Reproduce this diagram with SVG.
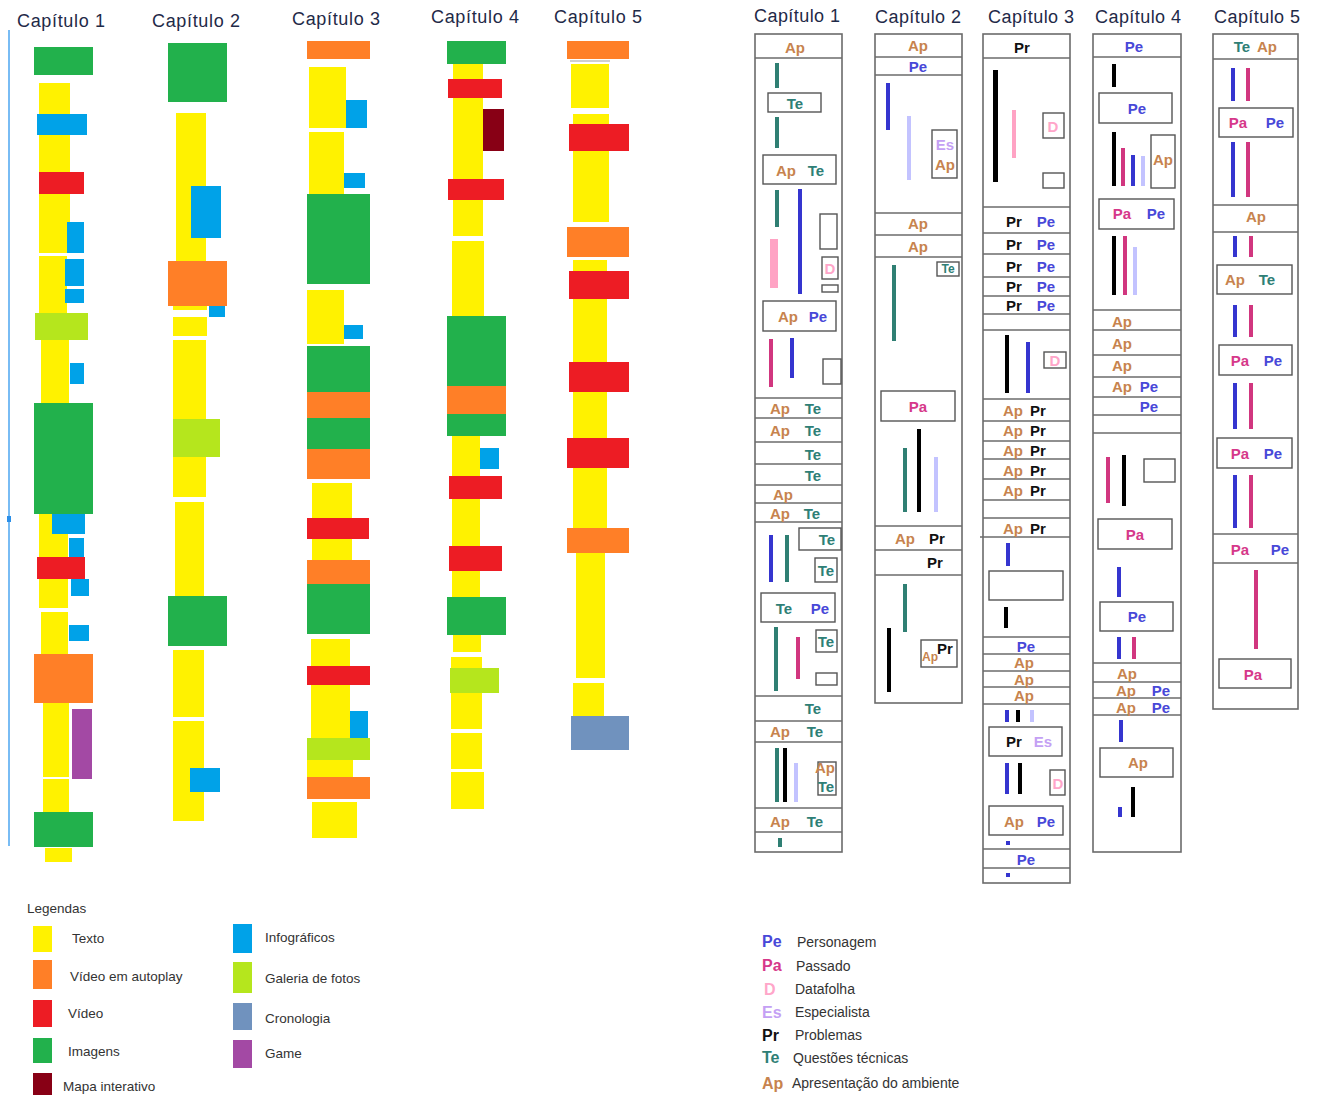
<svg xmlns="http://www.w3.org/2000/svg" width="1318" height="1095" viewBox="0 0 1318 1095">
<style>
text{font-family:"Liberation Sans",Arial,sans-serif;dominant-baseline:central}
.title{font-size:18px;fill:#1f2a48;text-anchor:middle}
.ab{font-size:15px;font-weight:bold;text-anchor:middle}
.sm{font-size:12px}
.ap{fill:#C7834E}.te{fill:#2F7F76}.pe{fill:#4848D8}.pa{fill:#D6388A}.d{fill:#FFA6C9}.es{fill:#C4A0F4}.pr{fill:#111}
.col{fill:#fff;stroke:#6b6b6b;stroke-width:1.6}
.ln{stroke:#6b6b6b;stroke-width:1.3}
.bx{fill:#fff;stroke:#555;stroke-width:1.4}
.Y{fill:#FFF200}.O{fill:#FF7F27}.R{fill:#ED1C24}.G{fill:#22B14C}.B{fill:#00A2E8}.L{fill:#B5E61D}.C{fill:#7092BE}.P{fill:#A349A4}.M{fill:#880015}
.bt{fill:#2F7F73}.bb{fill:#3535CF}.bp{fill:#FFA3C4}.bm{fill:#D1367F}.bk{fill:#000}.bl{fill:#C3C3FF}
.lg{font-size:13.5px;fill:#333}
.lg2{font-size:14px;fill:#333}
.lab{font-size:16px;font-weight:bold}
</style>
<rect width="1318" height="1095" fill="#fff"/>
<g id="connectors"/>

<!-- LEFT SIDE -->
<g id="left-axis">
<line x1="9" y1="30" x2="9" y2="846" stroke="#4DA6F0" stroke-width="1.5"/>
<rect x="7" y="516" width="4" height="6" fill="#2b8fe8"/>
</g>

<g id="left-chapter-1">
<text class="title" x="61" y="21" textLength="88" lengthAdjust="spacing">Capítulo 1</text>
<rect class="Y" x="39" y="83" width="31" height="170"/>
<rect class="Y" x="39" y="256" width="28" height="57"/>
<rect class="Y" x="41" y="340" width="28" height="63"/>
<rect class="Y" x="39" y="514" width="29" height="94"/>
<rect class="Y" x="41" y="612" width="27" height="42"/>
<rect class="Y" x="43" y="703" width="26" height="74"/>
<rect class="Y" x="43" y="779" width="26" height="33"/>
<rect class="Y" x="45" y="848" width="27" height="14"/>
<rect class="G" x="34" y="47" width="59" height="28"/>
<rect class="B" x="37" y="114" width="50" height="21"/>
<rect class="R" x="39" y="172" width="45" height="22"/>
<rect class="B" x="67" y="222" width="17" height="31"/>
<rect class="B" x="65" y="259" width="19" height="27"/>
<rect class="B" x="65" y="289" width="19" height="14"/>
<rect class="L" x="35" y="313" width="53" height="27"/>
<rect class="B" x="70" y="363" width="14" height="21"/>
<rect class="G" x="34" y="403" width="59" height="111"/>
<rect class="B" x="52" y="514" width="33" height="20"/>
<rect class="B" x="69" y="538" width="15" height="19"/>
<rect class="R" x="37" y="557" width="48" height="22"/>
<rect class="B" x="71" y="579" width="18" height="17"/>
<rect class="B" x="69" y="625" width="20" height="16"/>
<rect class="O" x="34" y="654" width="59" height="49"/>
<rect class="P" x="72" y="709" width="20" height="70"/>
<rect class="G" x="34" y="812" width="59" height="35"/>
</g>

<g id="left-chapter-2">
<text class="title" x="196" y="21" textLength="88" lengthAdjust="spacing">Capítulo 2</text>
<rect class="G" x="168" y="43" width="59" height="59"/>
<rect class="Y" x="176" y="113" width="30" height="148"/>
<rect class="B" x="191" y="186" width="30" height="52"/>
<rect class="O" x="168" y="261" width="59" height="45"/>
<rect class="Y" x="173" y="306" width="34" height="4"/>
<rect class="B" x="209" y="306" width="16" height="11"/>
<rect class="Y" x="173" y="317" width="34" height="19"/>
<rect class="Y" x="173" y="340" width="33" height="157"/>
<rect class="L" x="173" y="419" width="47" height="38"/>
<rect class="Y" x="175" y="502" width="29" height="94"/>
<rect class="G" x="168" y="596" width="59" height="50"/>
<rect class="Y" x="173" y="650" width="31" height="67"/>
<rect class="Y" x="173" y="721" width="31" height="100"/>
<rect class="B" x="190" y="768" width="30" height="24"/>
</g>

<g id="left-chapter-3">
<text class="title" x="336" y="19" textLength="88" lengthAdjust="spacing">Capítulo 3</text>
<rect class="O" x="307" y="41" width="63" height="18"/>
<rect class="Y" x="309" y="67" width="37" height="61"/>
<rect class="B" x="346" y="100" width="21" height="28"/>
<rect class="Y" x="309" y="132" width="35" height="62"/>
<rect class="B" x="344" y="173" width="21" height="15"/>
<rect class="G" x="307" y="194" width="63" height="90"/>
<rect class="Y" x="307" y="290" width="37" height="54"/>
<rect class="B" x="344" y="325" width="19" height="14"/>
<rect class="G" x="307" y="346" width="63" height="46"/>
<rect class="O" x="307" y="392" width="63" height="26"/>
<rect class="G" x="307" y="418" width="63" height="31"/>
<rect class="O" x="307" y="449" width="63" height="30"/>
<rect class="Y" x="312" y="483" width="40" height="77"/>
<rect class="R" x="307" y="518" width="62" height="21"/>
<rect class="O" x="307" y="560" width="63" height="24"/>
<rect class="G" x="307" y="584" width="63" height="50"/>
<rect class="Y" x="311" y="639" width="39" height="100"/>
<rect class="R" x="307" y="666" width="63" height="19"/>
<rect class="B" x="350" y="711" width="18" height="27"/>
<rect class="L" x="307" y="738" width="63" height="22"/>
<rect class="Y" x="307" y="760" width="46" height="17"/>
<rect class="O" x="307" y="777" width="63" height="22"/>
<rect class="Y" x="312" y="802" width="45" height="36"/>
</g>

<g id="left-chapter-4">
<text class="title" x="475" y="17" textLength="88" lengthAdjust="spacing">Capítulo 4</text>
<rect class="G" x="447" y="41" width="59" height="23"/>
<rect class="Y" x="453" y="64" width="30" height="172"/>
<rect class="R" x="448" y="79" width="54" height="19"/>
<rect class="M" x="483" y="109" width="21" height="42"/>
<rect class="R" x="448" y="179" width="56" height="21"/>
<rect class="Y" x="452" y="241" width="32" height="75"/>
<rect class="G" x="447" y="316" width="59" height="70"/>
<rect class="O" x="447" y="386" width="59" height="28"/>
<rect class="G" x="447" y="414" width="59" height="22"/>
<rect class="Y" x="452" y="436" width="28" height="161"/>
<rect class="B" x="480" y="448" width="19" height="21"/>
<rect class="R" x="449" y="476" width="53" height="23"/>
<rect class="R" x="449" y="546" width="53" height="25"/>
<rect class="G" x="447" y="597" width="59" height="38"/>
<rect class="Y" x="453" y="635" width="28" height="17"/>
<rect class="Y" x="451" y="657" width="31" height="72"/>
<rect class="L" x="450" y="668" width="49" height="25"/>
<rect class="Y" x="451" y="733" width="31" height="36"/>
<rect class="Y" x="451" y="772" width="33" height="37"/>
</g>

<g id="left-chapter-5">
<text class="title" x="598" y="17" textLength="88" lengthAdjust="spacing">Capítulo 5</text>
<rect class="O" x="567" y="41" width="62" height="18"/>
<rect x="570" y="60" width="40" height="2" fill="#cfcfcf"/>
<rect class="Y" x="571" y="64" width="38" height="44"/>
<rect class="Y" x="573" y="114" width="36" height="108"/>
<rect class="R" x="569" y="124" width="60" height="27"/>
<rect class="O" x="567" y="227" width="62" height="30"/>
<rect class="Y" x="573" y="260" width="34" height="268"/>
<rect class="R" x="569" y="271" width="60" height="28"/>
<rect class="R" x="569" y="362" width="60" height="30"/>
<rect class="R" x="567" y="438" width="62" height="30"/>
<rect class="O" x="567" y="528" width="62" height="25"/>
<rect class="Y" x="576" y="553" width="29" height="125"/>
<rect class="Y" x="573" y="683" width="31" height="33"/>
<rect class="C" x="571" y="716" width="58" height="34"/>
</g>

<!-- RIGHT SIDE -->
<g id="right-chapter-1">
<text class="title" x="797" y="16" textLength="86" lengthAdjust="spacing">Capítulo 1</text>
<rect class="col" x="755" y="34" width="87" height="818"/>
<g class="ln">
<line x1="755" y1="58" x2="842" y2="58"/><line x1="755" y1="398" x2="842" y2="398"/>
<line x1="755" y1="418" x2="842" y2="418"/><line x1="755" y1="442" x2="842" y2="442"/>
<line x1="755" y1="464" x2="842" y2="464"/><line x1="755" y1="485" x2="842" y2="485"/>
<line x1="755" y1="503" x2="842" y2="503"/><line x1="755" y1="522" x2="842" y2="522"/>
<line x1="755" y1="696" x2="842" y2="696"/><line x1="755" y1="721" x2="842" y2="721"/>
<line x1="755" y1="742" x2="842" y2="742"/><line x1="755" y1="808" x2="842" y2="808"/>
<line x1="755" y1="832" x2="842" y2="832"/>
</g>
<rect class="bx" x="768" y="93" width="53" height="19"/>
<rect class="bx" x="763" y="155" width="73" height="29"/>
<rect class="bx" x="820" y="214" width="17" height="35"/>
<rect class="bx" x="822" y="257" width="16" height="22"/>
<rect class="bx" x="822" y="285" width="16" height="7"/>
<rect class="bx" x="763" y="301" width="73" height="30"/>
<rect class="bx" x="823" y="359" width="18" height="25"/>
<rect class="bx" x="799" y="528" width="42" height="22"/>
<rect class="bx" x="815" y="558" width="22" height="24"/>
<rect class="bx" x="761" y="593" width="74" height="29"/>
<rect class="bx" x="816" y="630" width="21" height="22"/>
<rect class="bx" x="816" y="673" width="21" height="12"/>
<rect class="bx" x="818" y="762" width="18" height="33"/>
<rect class="bt" x="775" y="63" width="4" height="25"/>
<rect class="bt" x="775" y="117" width="4" height="31"/>
<rect class="bt" x="775" y="190" width="4" height="37"/>
<rect class="bb" x="798" y="189" width="4" height="105"/>
<rect class="bp" x="770" y="239" width="8" height="49"/>
<rect class="bm" x="769" y="339" width="4" height="48"/>
<rect class="bb" x="790" y="338" width="4" height="40"/>
<rect class="bb" x="769" y="535" width="4" height="47"/>
<rect class="bt" x="785" y="535" width="4" height="47"/>
<rect class="bt" x="774" y="627" width="4" height="64"/>
<rect class="bm" x="796" y="637" width="4" height="42"/>
<rect class="bt" x="775" y="748" width="4" height="54"/>
<rect class="bk" x="783" y="748" width="4" height="54"/>
<rect class="bl" x="794" y="763" width="4" height="39"/>
<rect class="bt" x="778" y="838" width="4" height="9"/>
<text class="ab ap" x="795" y="47">Ap</text>
<text class="ab te" x="795" y="103">Te</text>
<text class="ab ap" x="786" y="170">Ap</text><text class="ab te" x="816" y="170">Te</text>
<text class="ab d" x="830" y="268">D</text>
<text class="ab ap" x="788" y="316">Ap</text><text class="ab pe" x="818" y="316">Pe</text>
<text class="ab ap" x="780" y="408">Ap</text><text class="ab te" x="813" y="408">Te</text>
<text class="ab ap" x="780" y="430">Ap</text><text class="ab te" x="813" y="430">Te</text>
<text class="ab te" x="813" y="454">Te</text>
<text class="ab te" x="813" y="475">Te</text>
<text class="ab ap" x="783" y="494">Ap</text>
<text class="ab ap" x="780" y="513">Ap</text><text class="ab te" x="812" y="513">Te</text>
<text class="ab te" x="827" y="539">Te</text>
<text class="ab te" x="826" y="570">Te</text>
<text class="ab te" x="784" y="608">Te</text><text class="ab pe" x="820" y="608">Pe</text>
<text class="ab te" x="826" y="641">Te</text>
<text class="ab te" x="813" y="708">Te</text>
<text class="ab ap" x="780" y="731">Ap</text><text class="ab te" x="815" y="731">Te</text>
<text class="ab ap" x="825" y="767">Ap</text><text class="ab te" x="826" y="786">Te</text>
<text class="ab ap" x="780" y="821">Ap</text><text class="ab te" x="815" y="821">Te</text>
</g>

<g id="right-chapter-2">
<text class="title" x="918" y="17" textLength="86" lengthAdjust="spacing">Capítulo 2</text>
<rect class="col" x="875" y="34" width="87" height="669"/>
<g class="ln">
<line x1="875" y1="57" x2="962" y2="57"/><line x1="875" y1="75" x2="962" y2="75"/>
<line x1="875" y1="213" x2="962" y2="213"/><line x1="875" y1="235" x2="962" y2="235"/>
<line x1="875" y1="257" x2="962" y2="257"/><line x1="875" y1="526" x2="962" y2="526"/>
<line x1="875" y1="550" x2="962" y2="550"/><line x1="875" y1="575" x2="962" y2="575"/>
</g>
<rect class="bx" x="932" y="130" width="25" height="48"/>
<rect class="bx" x="937" y="262" width="22" height="14"/>
<rect class="bx" x="881" y="391" width="74" height="30"/>
<rect class="bx" x="921" y="640" width="36" height="27"/>
<rect class="bb" x="886" y="83" width="4" height="47"/>
<rect class="bl" x="907" y="116" width="4" height="64"/>
<rect class="bt" x="892" y="265" width="4" height="76"/>
<rect class="bt" x="903" y="448" width="4" height="64"/>
<rect class="bk" x="917" y="429" width="4" height="83"/>
<rect class="bl" x="934" y="457" width="4" height="55"/>
<rect class="bt" x="903" y="584" width="4" height="48"/>
<rect class="bk" x="887" y="628" width="4" height="64"/>
<text class="ab ap" x="918" y="45">Ap</text>
<text class="ab pe" x="918" y="66">Pe</text>
<text class="ab es" x="945" y="144">Es</text>
<text class="ab ap" x="945" y="164">Ap</text>
<text class="ab ap" x="918" y="223">Ap</text>
<text class="ab ap" x="918" y="246">Ap</text>
<text class="ab te sm" x="948" y="269">Te</text>
<text class="ab pa" x="918" y="406">Pa</text>
<text class="ab ap" x="905" y="538">Ap</text><text class="ab pr" x="937" y="538">Pr</text>
<text class="ab pr" x="935" y="562">Pr</text>
<text class="ab ap sm" x="930" y="657">Ap</text><text class="ab pr" x="945" y="648">Pr</text>
</g>

<g id="right-chapter-3">
<text class="title" x="1031" y="17" textLength="86" lengthAdjust="spacing">Capítulo 3</text>
<rect class="col" x="983" y="34" width="87" height="849"/>
<g class="ln">
<line x1="983" y1="58" x2="1070" y2="58"/><line x1="983" y1="207" x2="1070" y2="207"/>
<line x1="983" y1="233" x2="1070" y2="233"/><line x1="983" y1="254" x2="1070" y2="254"/>
<line x1="983" y1="277" x2="1070" y2="277"/><line x1="983" y1="296" x2="1070" y2="296"/>
<line x1="983" y1="314" x2="1070" y2="314"/><line x1="983" y1="330" x2="1070" y2="330"/>
<line x1="983" y1="399" x2="1070" y2="399"/><line x1="983" y1="421" x2="1070" y2="421"/>
<line x1="983" y1="441" x2="1070" y2="441"/><line x1="983" y1="459" x2="1070" y2="459"/>
<line x1="983" y1="479" x2="1070" y2="479"/><line x1="983" y1="500" x2="1070" y2="500"/>
<line x1="983" y1="518" x2="1070" y2="518"/><line x1="980" y1="537" x2="1070" y2="537"/>
<line x1="983" y1="637" x2="1070" y2="637"/><line x1="983" y1="654" x2="1070" y2="654"/>
<line x1="983" y1="671" x2="1070" y2="671"/><line x1="983" y1="687" x2="1070" y2="687"/>
<line x1="983" y1="704" x2="1070" y2="704"/><line x1="983" y1="849" x2="1070" y2="849"/>
<line x1="983" y1="868" x2="1070" y2="868"/>
</g>
<rect class="bx" x="1043" y="113" width="21" height="25"/>
<rect class="bx" x="1043" y="173" width="21" height="15"/>
<rect class="bx" x="1044" y="352" width="22" height="16"/>
<rect class="bx" x="989" y="571" width="74" height="29"/>
<rect class="bx" x="989" y="727" width="73" height="29"/>
<rect class="bx" x="1050" y="770" width="15" height="25"/>
<rect class="bx" x="989" y="806" width="74" height="29"/>
<rect class="bk" x="993" y="70" width="5" height="112"/>
<rect class="bp" x="1012" y="110" width="4" height="48"/>
<rect class="bk" x="1005" y="335" width="4" height="58"/>
<rect class="bb" x="1026" y="342" width="4" height="51"/>
<rect class="bb" x="1006" y="543" width="4" height="23"/>
<rect class="bk" x="1004" y="607" width="4" height="21"/>
<rect class="bb" x="1005" y="710" width="4" height="12"/>
<rect class="bk" x="1016" y="710" width="4" height="12"/>
<rect class="bl" x="1030" y="710" width="4" height="12"/>
<rect class="bb" x="1005" y="763" width="4" height="31"/>
<rect class="bk" x="1018" y="763" width="4" height="31"/>
<rect class="bb" x="1006" y="841" width="4" height="4"/>
<rect class="bb" x="1006" y="873" width="4" height="4"/>
<text class="ab pr" x="1022" y="47">Pr</text>
<text class="ab d" x="1053" y="126">D</text>
<text class="ab pr" x="1014" y="221">Pr</text><text class="ab pe" x="1046" y="221">Pe</text>
<text class="ab pr" x="1014" y="244">Pr</text><text class="ab pe" x="1046" y="244">Pe</text>
<text class="ab pr" x="1014" y="266">Pr</text><text class="ab pe" x="1046" y="266">Pe</text>
<text class="ab pr" x="1014" y="286">Pr</text><text class="ab pe" x="1046" y="286">Pe</text>
<text class="ab pr" x="1014" y="305">Pr</text><text class="ab pe" x="1046" y="305">Pe</text>
<text class="ab d" x="1055" y="360">D</text>
<text class="ab ap" x="1013" y="410">Ap</text><text class="ab pr" x="1038" y="410">Pr</text>
<text class="ab ap" x="1013" y="430">Ap</text><text class="ab pr" x="1038" y="430">Pr</text>
<text class="ab ap" x="1013" y="450">Ap</text><text class="ab pr" x="1038" y="450">Pr</text>
<text class="ab ap" x="1013" y="470">Ap</text><text class="ab pr" x="1038" y="470">Pr</text>
<text class="ab ap" x="1013" y="490">Ap</text><text class="ab pr" x="1038" y="490">Pr</text>
<text class="ab ap" x="1013" y="528">Ap</text><text class="ab pr" x="1038" y="528">Pr</text>
<text class="ab pe" x="1026" y="646">Pe</text>
<text class="ab ap" x="1024" y="662">Ap</text>
<text class="ab ap" x="1024" y="679">Ap</text>
<text class="ab ap" x="1024" y="695">Ap</text>
<text class="ab pr" x="1014" y="741">Pr</text><text class="ab es" x="1043" y="741">Es</text>
<text class="ab d" x="1058" y="783">D</text>
<text class="ab ap" x="1014" y="821">Ap</text><text class="ab pe" x="1046" y="821">Pe</text>
<text class="ab pe" x="1026" y="859">Pe</text>
</g>

<g id="right-chapter-4">
<text class="title" x="1138" y="17" textLength="86" lengthAdjust="spacing">Capítulo 4</text>
<rect class="col" x="1093" y="34" width="88" height="818"/>
<g class="ln">
<line x1="1093" y1="57" x2="1181" y2="57"/><line x1="1093" y1="310" x2="1181" y2="310"/>
<line x1="1093" y1="330" x2="1181" y2="330"/><line x1="1093" y1="355" x2="1181" y2="355"/>
<line x1="1093" y1="377" x2="1181" y2="377"/><line x1="1093" y1="397" x2="1181" y2="397"/>
<line x1="1093" y1="415" x2="1181" y2="415"/><line x1="1093" y1="433" x2="1181" y2="433"/>
<line x1="1093" y1="663" x2="1181" y2="663"/><line x1="1093" y1="682" x2="1181" y2="682"/>
<line x1="1093" y1="698" x2="1181" y2="698"/><line x1="1093" y1="715" x2="1181" y2="715"/>
</g>
<rect class="bx" x="1099" y="93" width="73" height="30"/>
<rect class="bx" x="1151" y="135" width="24" height="53"/>
<rect class="bx" x="1099" y="199" width="75" height="30"/>
<rect class="bx" x="1144" y="459" width="31" height="23"/>
<rect class="bx" x="1098" y="519" width="74" height="30"/>
<rect class="bx" x="1100" y="602" width="73" height="29"/>
<rect class="bx" x="1100" y="748" width="73" height="29"/>
<rect class="bk" x="1112" y="64" width="4" height="23"/>
<rect class="bk" x="1112" y="132" width="4" height="54"/>
<rect class="bm" x="1121" y="148" width="4" height="38"/>
<rect class="bb" x="1131" y="155" width="4" height="31"/>
<rect class="bl" x="1141" y="156" width="4" height="30"/>
<rect class="bk" x="1112" y="236" width="4" height="59"/>
<rect class="bm" x="1123" y="236" width="4" height="59"/>
<rect class="bl" x="1133" y="247" width="4" height="48"/>
<rect class="bm" x="1106" y="457" width="4" height="46"/>
<rect class="bk" x="1122" y="455" width="4" height="51"/>
<rect class="bb" x="1117" y="567" width="4" height="30"/>
<rect class="bb" x="1117" y="637" width="4" height="22"/>
<rect class="bm" x="1132" y="637" width="4" height="22"/>
<rect class="bb" x="1119" y="720" width="4" height="22"/>
<rect class="bb" x="1118" y="807" width="4" height="10"/>
<rect class="bk" x="1131" y="787" width="4" height="30"/>
<text class="ab pe" x="1134" y="46">Pe</text>
<text class="ab pe" x="1137" y="108">Pe</text>
<text class="ab ap" x="1163" y="159">Ap</text>
<text class="ab pa" x="1122" y="213">Pa</text><text class="ab pe" x="1156" y="213">Pe</text>
<text class="ab ap" x="1122" y="321">Ap</text>
<text class="ab ap" x="1122" y="343">Ap</text>
<text class="ab ap" x="1122" y="365">Ap</text>
<text class="ab ap" x="1122" y="386">Ap</text><text class="ab pe" x="1149" y="386">Pe</text>
<text class="ab pe" x="1149" y="406">Pe</text>
<text class="ab pa" x="1135" y="534">Pa</text>
<text class="ab pe" x="1137" y="616">Pe</text>
<text class="ab ap" x="1127" y="673">Ap</text>
<text class="ab ap" x="1126" y="690">Ap</text><text class="ab pe" x="1161" y="690">Pe</text>
<text class="ab ap" x="1126" y="707">Ap</text><text class="ab pe" x="1161" y="707">Pe</text>
<text class="ab ap" x="1138" y="762">Ap</text>
</g>

<g id="right-chapter-5">
<text class="title" x="1257" y="17" textLength="86" lengthAdjust="spacing">Capítulo 5</text>
<rect class="col" x="1213" y="34" width="85" height="675"/>
<g class="ln">
<line x1="1213" y1="59" x2="1298" y2="59"/><line x1="1213" y1="205" x2="1298" y2="205"/>
<line x1="1213" y1="232" x2="1298" y2="232"/><line x1="1213" y1="534" x2="1298" y2="534"/>
<line x1="1213" y1="563" x2="1298" y2="563"/>
</g>
<rect class="bx" x="1219" y="108" width="74" height="29"/>
<rect class="bx" x="1217" y="265" width="75" height="29"/>
<rect class="bx" x="1219" y="345" width="73" height="30"/>
<rect class="bx" x="1217" y="438" width="75" height="30"/>
<rect class="bx" x="1219" y="659" width="72" height="29"/>
<rect class="bb" x="1231" y="68" width="4" height="33"/>
<rect class="bm" x="1246" y="68" width="4" height="33"/>
<rect class="bb" x="1231" y="142" width="4" height="55"/>
<rect class="bm" x="1246" y="142" width="4" height="55"/>
<rect class="bb" x="1233" y="236" width="4" height="21"/>
<rect class="bm" x="1249" y="236" width="4" height="21"/>
<rect class="bb" x="1233" y="305" width="4" height="32"/>
<rect class="bm" x="1249" y="305" width="4" height="32"/>
<rect class="bb" x="1233" y="383" width="4" height="46"/>
<rect class="bm" x="1249" y="383" width="4" height="46"/>
<rect class="bb" x="1233" y="475" width="4" height="53"/>
<rect class="bm" x="1249" y="475" width="4" height="53"/>
<rect class="bm" x="1254" y="570" width="4" height="79"/>
<text class="ab te" x="1242" y="46">Te</text><text class="ab ap" x="1267" y="46">Ap</text>
<text class="ab pa" x="1238" y="122">Pa</text><text class="ab pe" x="1275" y="122">Pe</text>
<text class="ab ap" x="1256" y="216">Ap</text>
<text class="ab ap" x="1235" y="279">Ap</text><text class="ab te" x="1267" y="279">Te</text>
<text class="ab pa" x="1240" y="360">Pa</text><text class="ab pe" x="1273" y="360">Pe</text>
<text class="ab pa" x="1240" y="453">Pa</text><text class="ab pe" x="1273" y="453">Pe</text>
<text class="ab pa" x="1240" y="549">Pa</text><text class="ab pe" x="1280" y="549">Pe</text>
<text class="ab pa" x="1253" y="674">Pa</text>
</g>

<!-- LEGENDS -->
<g id="legend-media">
<text class="lg" x="27" y="908">Legendas</text>
<rect class="Y" x="33" y="926" width="19" height="26"/><text class="lg" x="72" y="938">Texto</text>
<rect class="O" x="33" y="960" width="19" height="29"/><text class="lg" x="70" y="976">Vídeo em autoplay</text>
<rect class="R" x="33" y="1000" width="19" height="27"/><text class="lg" x="68" y="1013">Vídeo</text>
<rect class="G" x="33" y="1038" width="19" height="25"/><text class="lg" x="68" y="1051">Imagens</text>
<rect class="M" x="33" y="1073" width="19" height="22"/><text class="lg" x="63" y="1086">Mapa interativo</text>
<rect class="B" x="233" y="924" width="19" height="29"/><text class="lg" x="265" y="937">Infográficos</text>
<rect class="L" x="233" y="962" width="19" height="31"/><text class="lg" x="265" y="978">Galeria de fotos</text>
<rect class="C" x="233" y="1003" width="19" height="27"/><text class="lg" x="265" y="1018">Cronologia</text>
<rect class="P" x="233" y="1040" width="19" height="28"/><text class="lg" x="265" y="1053">Game</text>
</g>

<g id="legend-topics">
<text class="lab pe" x="762" y="941">Pe</text><text class="lg2" x="797" y="942">Personagem</text>
<text class="lab pa" x="762" y="965">Pa</text><text class="lg2" x="796" y="966">Passado</text>
<text class="lab d" x="764" y="989">D</text><text class="lg2" x="795" y="989">Datafolha</text>
<text class="lab es" x="762" y="1012">Es</text><text class="lg2" x="795" y="1012">Especialista</text>
<text class="lab pr" x="762" y="1035">Pr</text><text class="lg2" x="795" y="1035">Problemas</text>
<text class="lab te" x="762" y="1057">Te</text><text class="lg2" x="793" y="1058">Questões técnicas</text>
<text class="lab ap" x="762" y="1083">Ap</text><text class="lg2" x="792" y="1083">Apresentação do ambiente</text>
</g>
</svg>
